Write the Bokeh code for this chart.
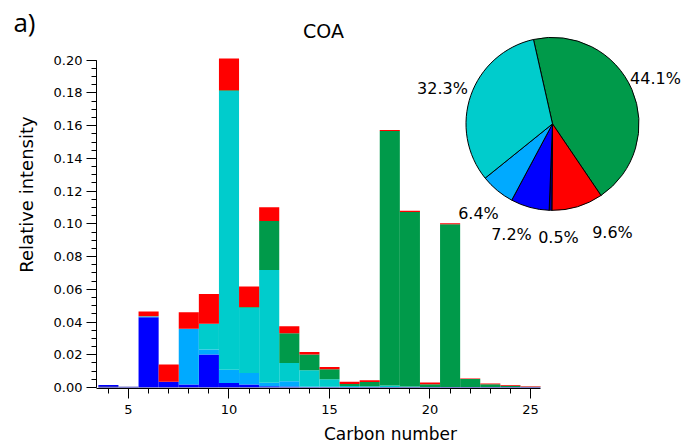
import numpy as np
from bokeh.plotting import figure
from bokeh.models import (ColumnDataSource, Range1d, Label, SingleIntervalTicker,
                          NumeralTickFormatter, LinearAxis, FixedTicker,
                          CustomJSTickFormatter)
from bokeh.embed import file_html
from bokeh.resources import INLINE

# ---------------- data ----------------
carbon = list(range(4, 26))
navy = [0.0008, 0.0005, 0.0003, 0.0003, 0.0003, 0.0003, 0.0003, 0.0003, 0.0003, 0.0003, 0.0003,
        0.0003, 0.0003, 0.0003, 0.0003, 0.0003, 0.0003, 0.0003, 0.0003, 0.0003, 0.0003, 0.0003]
blue = [0.0007, 0.0, 0.0426, 0.0032, 0.0016, 0.0198, 0.0025, 0.0015, 0.0005, 0.0003, 0.0,
        0.0, 0.0, 0.0, 0.0, 0.0, 0.0, 0.0, 0.0, 0.0, 0.0, 0.0]
lightblue = [0.0, 0.0, 0.0004, 0.0, 0.034, 0.0032, 0.0081, 0.0071, 0.0021, 0.0032, 0.0003,
             0.0002, 0.0, 0.0, 0.0, 0.0, 0.0, 0.0, 0.0, 0.0, 0.0, 0.0]
cyan = [0.0, 0.0, 0.0003, 0.0, 0.0, 0.0156, 0.1703, 0.0398, 0.0689, 0.0112, 0.0100,
        0.0045, 0.0007, 0.0005, 0.0010, 0.0003, 0.0, 0.0, 0.0, 0.0, 0.0, 0.0]
green = [0.0, 0.0, 0.0, 0.0, 0.0, 0.0, 0.0005, 0.0005, 0.0299, 0.0182, 0.0095,
         0.0061, 0.0011, 0.0026, 0.1555, 0.1066, 0.0017, 0.0994, 0.0049, 0.0017, 0.0008, 0.0001]
red = [0.0, 0.0, 0.0028, 0.0105, 0.0101, 0.0182, 0.0193, 0.0126, 0.0085, 0.0043, 0.0016,
       0.0015, 0.0014, 0.0010, 0.0006, 0.0008, 0.0010, 0.0007, 0.0003, 0.0004, 0.0004, 0.0004]

pie_values = [44.1, 9.6, 0.5, 7.2, 6.4, 32.3]
pie_labels = ["44.1%", "9.6%", "0.5%", "7.2%", "6.4%", "32.3%"]

x_ticks_interval = 5
y_ticks_interval = 0.02

# ---------------- styles / layout ----------------
series = ["navy", "blue", "lightblue", "cyan", "green", "red"]
colors = ["#000099", "#0000FF", "#00AAFF", "#00CCCC", "#009A4A", "#FF0000"]
pie_colors = ["#009A4A", "#FF0000", "#000099", "#0000FF", "#00AAFF", "#00CCCC"]
FONT = "DejaVu Sans"

W, H = 684, 446
BL, BB = 96, 56
px_per_c = 20.1
px_per_v = 1645.0
x0 = 3.408
y0 = -0.0006
fw = W - BL
fh = H - BB

p = figure(width=W, height=H, output_backend="svg", toolbar_location=None,
           x_range=Range1d(x0, x0 + fw / px_per_c),
           y_range=Range1d(y0, y0 + fh / px_per_v),
           min_border_left=BL, min_border_right=0, min_border_top=0, min_border_bottom=BB)
p.outline_line_color = None
p.grid.visible = False
p.background_fill_color = "white"
p.border_fill_color = "white"

src = ColumnDataSource(dict(carbon=carbon, navy=navy, blue=blue, lightblue=lightblue,
                            cyan=cyan, green=green, red=red))
p.vbar_stack(series, x="carbon", width=1.0, fill_color=colors, line_color=None, source=src)

# axes
xa = p.xaxis[0]
xa.ticker = SingleIntervalTicker(interval=x_ticks_interval, num_minor_ticks=5)
xa.bounds = (x0, 25.5)
ya = p.yaxis[0]
ya.ticker = SingleIntervalTicker(interval=y_ticks_interval, num_minor_ticks=4)
ya.bounds = (0, 0.2001)
ya.formatter = NumeralTickFormatter(format="0.00")
for ax in (xa, ya):
    ax.axis_line_color = "black"
    ax.major_tick_line_color = "black"
    ax.minor_tick_line_color = "black"
    ax.major_tick_out = 10
    ax.major_tick_in = 0
    ax.minor_tick_out = 5
    ax.minor_tick_in = 0
    ax.major_label_text_font = FONT
    ax.major_label_text_font_size = "13px"
    ax.major_label_text_color = "black"
    ax.axis_label_text_font = FONT
    ax.axis_label_text_font_style = "normal"
    ax.axis_label_text_color = "black"
xa.axis_label = "Carbon number"
xa.axis_label_text_font_size = "17px"
xa.major_label_standoff = 6
xa.axis_label_standoff = 7
ya.axis_label = "Relative intensity"
ya.axis_label_text_font_size = "18px"
ya.major_label_standoff = 4
ya.axis_label_standoff = 14

# panel tag "a)" as an invisible outer left axis carrying one label
tag_axis = LinearAxis(ticker=FixedTicker(ticks=[0.2235], minor_ticks=[]),
                      formatter=CustomJSTickFormatter(code="return 'a)'"),
                      axis_line_color=None, major_tick_line_color=None,
                      minor_tick_line_color=None, major_tick_out=0, major_tick_in=0,
                      minor_tick_out=0, minor_tick_in=0, major_label_standoff=-23,
                      major_label_text_font="Open Sans", major_label_text_font_size="26px",
                      major_label_text_color="black")
p.add_layout(tag_axis, "left")

# pie
cx = x0 + (552 - BL) / px_per_c
cy = y0 + (H - BB - 124) / px_per_v
vals = np.array(pie_values, dtype=float)
frac = vals / vals.sum()
start_deg = 102.7
cum = np.concatenate([[0.0], np.cumsum(frac)])
starts = np.radians(start_deg - 360 * cum[:-1])
ends = np.radians(start_deg - 360 * cum[1:])
psrc = ColumnDataSource(dict(start=starts, end=ends, color=pie_colors))
p.wedge(x=cx, y=cy, radius=86.5, radius_units="screen", start_angle="start", end_angle="end",
        direction="clock", fill_color="color", line_color="black", line_width=1, source=psrc)

label_offsets = [(103, 45), (60, -109), (6, -114), (-41, -111), (-74, -90), (-110, 35)]
for txt, (dx, dy) in zip(pie_labels, label_offsets):
    p.add_layout(Label(x=cx, y=cy, x_offset=dx, y_offset=dy, text=txt, text_font=FONT,
                       text_font_size="16px", text_align="center", text_baseline="middle",
                       text_color="black"))

p.add_layout(Label(x=x0 + (323 - BL) / px_per_c, y=y0 + (H - BB - 31) / px_per_v, text="COA",
                   text_font=FONT, text_font_size="19px", text_align="center",
                   text_baseline="middle", text_color="black"))

open("out.html", "w").write(file_html(p, INLINE))
